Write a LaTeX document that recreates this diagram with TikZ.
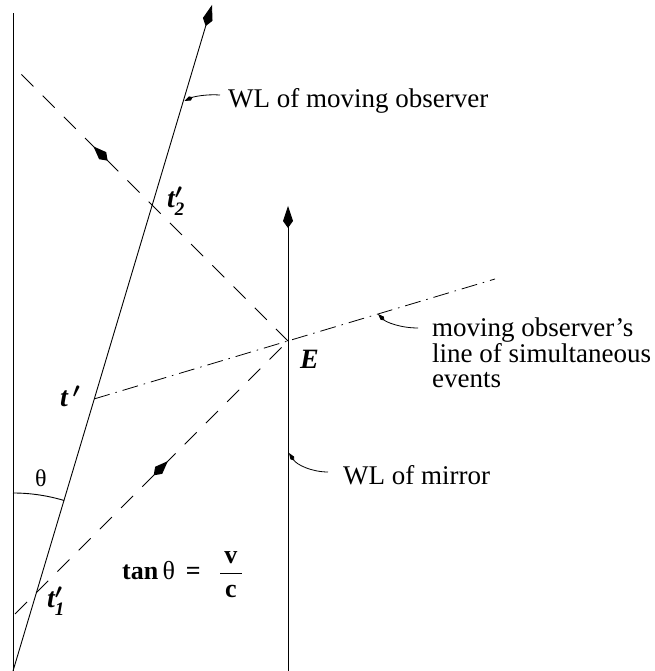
\documentclass[tikz,border=0pt]{standalone}
\usepackage{fontspec}
\usepackage{amsmath}
\setmainfont{Liberation Serif}
\usetikzlibrary{arrows.meta,decorations.markings}

\begin{document}
\begin{tikzpicture}[
    x=1pt, y=1pt,
    wl/.style={line width=0.9pt},
    tip/.style={-{Kite[length=22pt,width=10pt,inset=7pt]}},
    ray/.style={line width=0.9pt, dash pattern=on 17pt off 13pt},
    sim/.style={line width=0.8pt, dash pattern=on 16pt off 6pt on 1.5pt off 6pt},
    ptr/.style={line width=0.8pt, -{Kite[length=9pt,width=4.5pt,inset=3pt]}},
    lbl/.style={inner sep=0pt, anchor=base west, font=\fontsize{27}{25.5}\selectfont},
    ev/.style={inner sep=0pt, anchor=base west, font=\fontsize{28}{28}\selectfont\bfseries\itshape\boldmath},
    midarr/.style={postaction={decorate, decoration={markings,
        mark=at position #1 with {\arrow{Kite[length=20pt,width=10pt,inset=7pt]}}}}},
]
\useasboundingbox (0,0) rectangle (654,671);

% World lines
\coordinate (s0) at (13.5,0);
\coordinate (s1) at (13.5,658);
\coordinate (o0) at (13,0);
\coordinate (o1) at (212,666);
\coordinate (m0) at (288,0);
\coordinate (m1) at (288,465);
\draw[wl] (s0) -- (s1);
\draw[wl, tip] (o0) -- (o1);
\draw[wl, tip] (m0) -- (m1);

% Light signals
\coordinate (E)   at (288,330);
\coordinate (lup) at (14,604);
\coordinate (llo) at (15,57);
\draw[ray, midarr=0.71] (E) -- (lup);
\draw[ray, midarr=0.56] (llo) -- (E);

% Line of simultaneity
\coordinate (tp)   at (94.3,272.1);
\coordinate (send) at (495,392);
\draw[sim] (tp) -- (send);

% Angle
\draw[wl] (o0) ++(90:178) arc[start angle=90, end angle=73.3, radius=178];

% Event labels
\node[ev] (t2lbl) at (167,463) {t$'_{\mbox{\fontsize{19}{19}\selectfont 2}}$};
\node[ev] (t1lbl) at (47,63) {t$'_{\mbox{\fontsize{19}{19}\selectfont 1}}$};
\node[ev] (tplbl) at (60,264) {t\,$'$};
\node[ev] (Elbl)  at (300,302) {E};
\node[lbl, font=\fontsize{24}{24}\selectfont] (thlbl) at (35,184) {θ};
\node[lbl, font=\fontsize{26}{26}\selectfont] (tanlbl) at (122,91)
    {\textbf{tan}\,θ\, \textbf{=}\;\, $\dfrac{\textbf{\,v\,}}{\textbf{\,c\,}}$};

% Text labels
\node[lbl] (obslbl) at (228,563) {WL of moving observer};
\node[lbl, align=left] (simlbl) at (432,283) {moving observer’s\\line of simultaneous\\events};
\node[lbl] (mirlbl) at (343,186) {WL of mirror};

% Pointers
\coordinate (obsptr) at (220,576);
\coordinate (obstip) at (184.5,570);
\coordinate (simptr) at (418,343);
\coordinate (simtip) at (378,357);
\coordinate (mirptr) at (328,199);
\coordinate (mirtip) at (289,218);
\draw[ptr] (obsptr) .. controls (205,577) and (193,574) .. (obstip);
\draw[ptr] (simptr) .. controls (400,343) and (386,349) .. (simtip);
\draw[ptr] (mirptr) .. controls (312,199) and (297,206) .. (mirtip);

\end{tikzpicture}
\end{document}
